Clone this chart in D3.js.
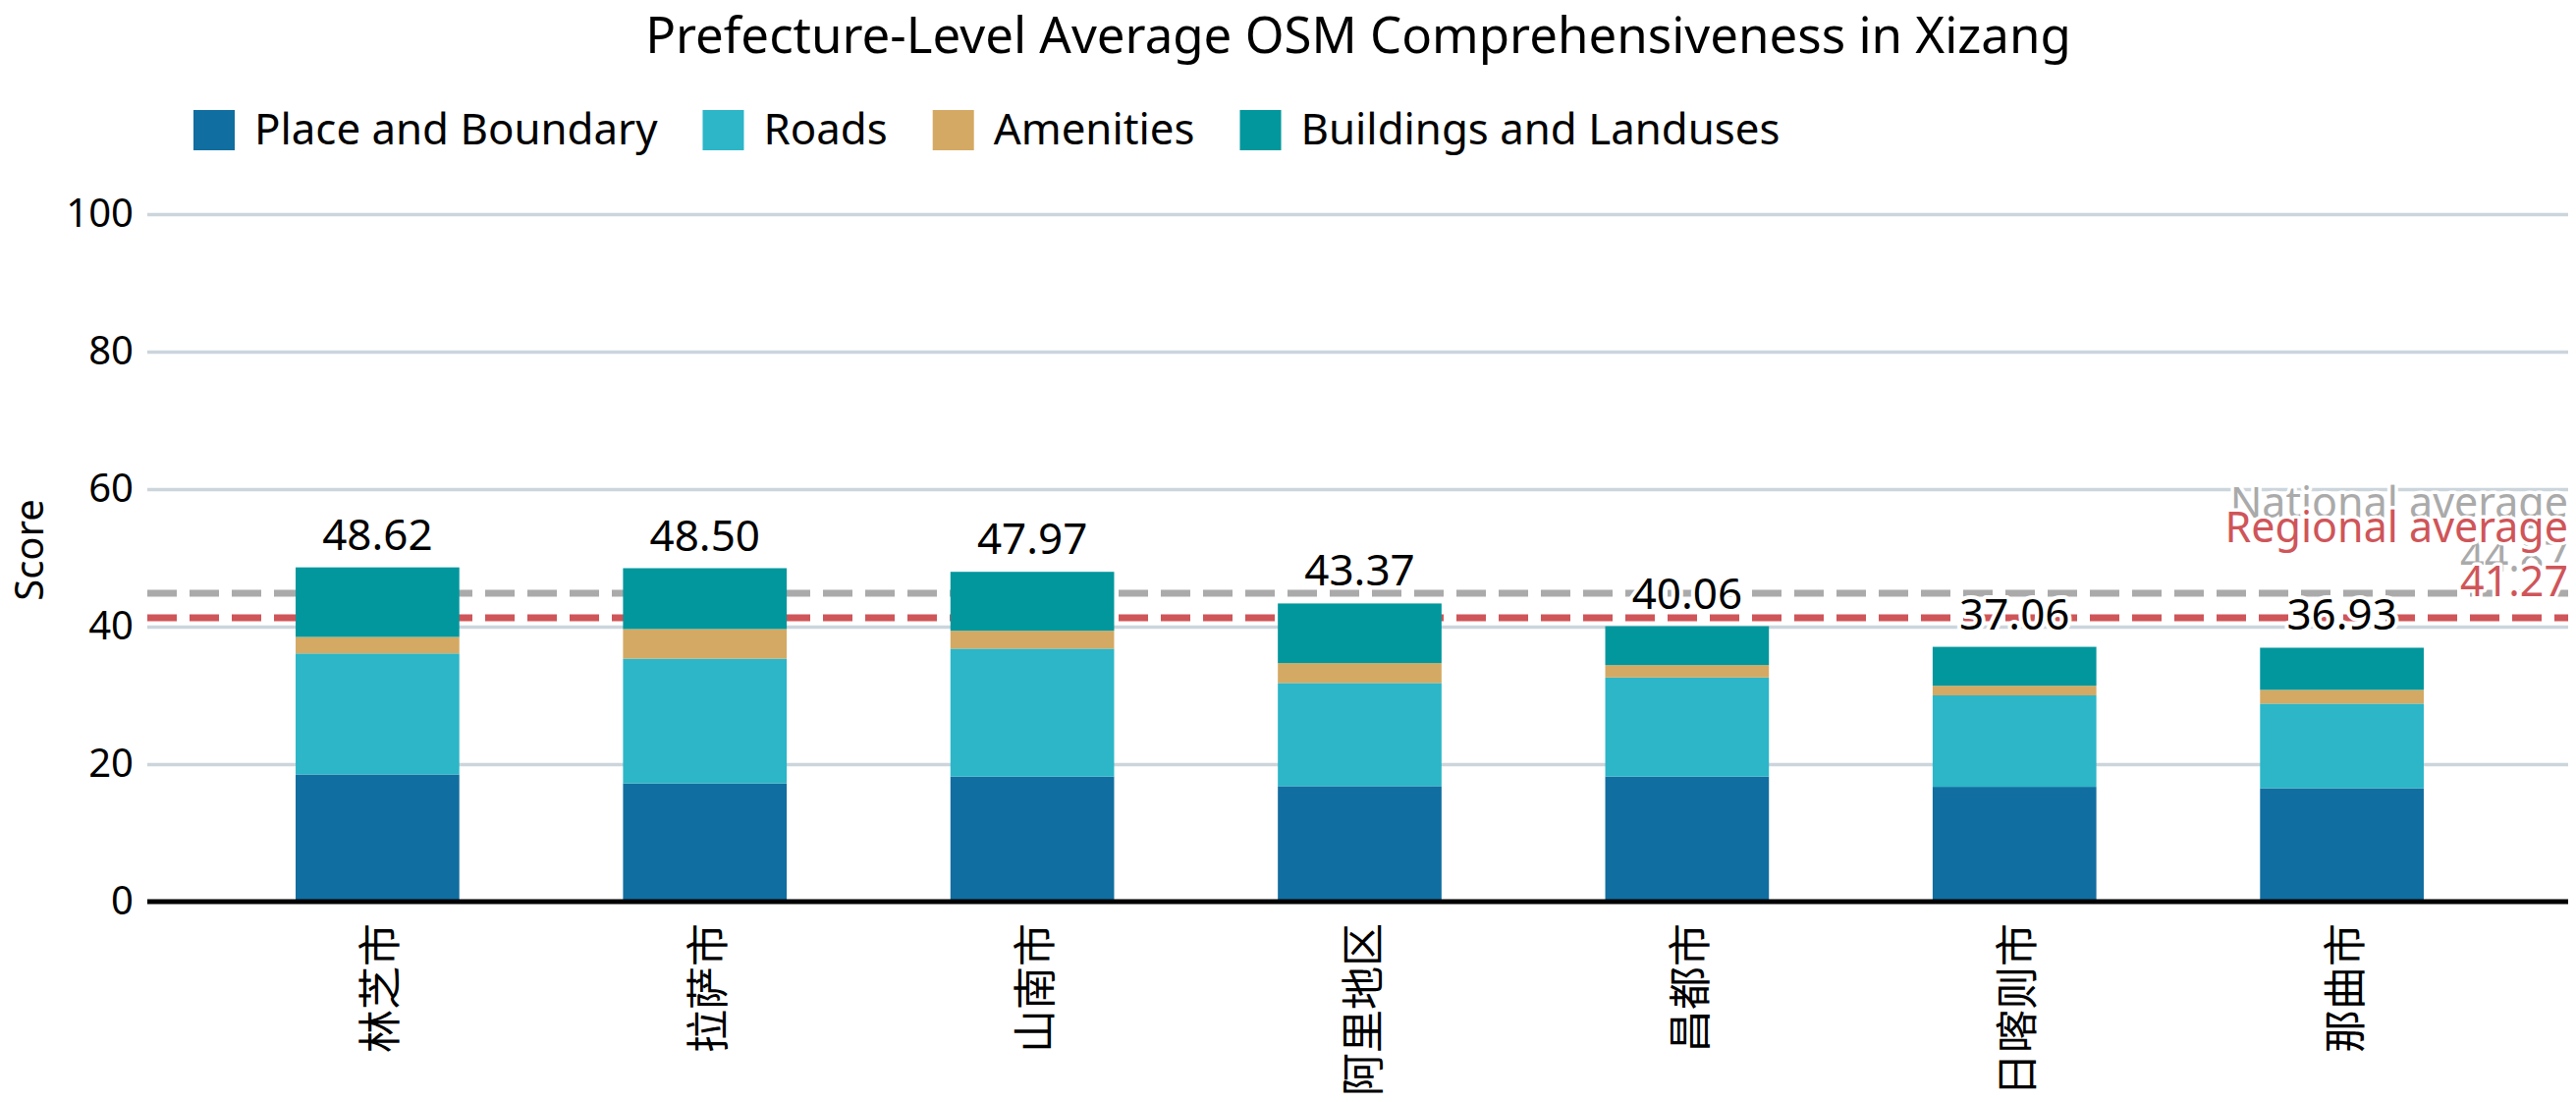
<!DOCTYPE html>
<html>
<head>
<meta charset="utf-8">
<script src="https://cdn.jsdelivr.net/npm/d3@7"></script>
<style>
  body { margin: 0; background: #fff; }
  svg { display: block; font-family: "Noto Sans", "Noto Sans CJK SC", sans-serif; }
</style>
</head>
<body>
<div id="chart"></div>
<script>
// prefecture names, in the order they are drawn
const regions = ['林芝市', '拉萨市', '山南市', '阿里地区', '昌都市', '日喀则市', '那曲市'];

// stacked component scores
const placeBoundary = [18.5, 17.2, 18.2, 16.8, 18.2, 16.7, 16.5];
const roads = [17.6, 18.15, 18.6, 15.0, 14.4, 13.3, 12.3];
const amenities = [2.4, 4.3, 2.6, 2.9, 1.8, 1.4, 2.0];
const buildings = [10.12, 8.85, 8.57, 8.67, 5.66, 5.66, 6.13];
const totals = [48.62, 48.50, 47.97, 43.37, 40.06, 37.06, 36.93];

const seriesNames = ['Place and Boundary', 'Roads', 'Amenities', 'Buildings and Landuses'];
const seriesColors = ['#116ea0', '#2cb6c8', '#d4a963', '#01979d'];

const yTicks = [0, 20, 40, 60, 80, 100];

const nationalAverage = 44.87;
const regionalAverage = 41.27;

const width = 2623;
const height = 1122;

function buildRows() {
    return regions.map((name, i) => ({
        region: name,
        'Place and Boundary': placeBoundary[i],
        'Roads': roads[i],
        'Amenities': amenities[i],
        'Buildings and Landuses': buildings[i],
        total: totals[i],
    }));
}

function drawChart() {
    const rows = buildRows();
    const area = { left: 150, right: 2615, top: 218, bottom: 918 };

    const svg = d3
        .select('#chart')
        .append('svg')
        .attr('width', width)
        .attr('height', height)
        .attr('viewBox', `0 0 ${width} ${height}`);

    const xScale = d3
        .scaleBand()
        .domain(regions)
        .range([152, 2617])
        .paddingInner(0.5)
        .paddingOuter(0.447);

    const yScale = d3
        .scaleLinear()
        .domain([0, 100])
        .range([area.bottom, area.top]);

    const color = d3.scaleOrdinal().domain(seriesNames).range(seriesColors);

    // title
    svg.append('text')
        .attr('x', 1383)
        .attr('y', 54)
        .attr('text-anchor', 'middle')
        .style('font-size', '51px')
        .text('Prefecture-Level Average OSM Comprehensiveness in Xizang');

    // legend
    let lx = 197;
    seriesNames.forEach((name) => {
        svg.append('rect')
            .attr('x', lx)
            .attr('y', 112)
            .attr('width', 42)
            .attr('height', 41)
            .attr('fill', color(name));
        const t = svg.append('text')
            .attr('x', lx + 62)
            .attr('y', 147)
            .style('font-size', '43.8px')
            .text(name);
        lx += 62 + t.node().getComputedTextLength() + 46;
    });

    // gridlines + tick labels
    const yAxis = svg.append('g')
        .attr('transform', `translate(${area.left}, 0)`)
        .call(
            d3.axisLeft(yScale)
                .tickValues(yTicks)
                .tickSize(-(area.right - area.left))
                .tickPadding(14)
        );
    yAxis.select('.domain').remove();
    yAxis.selectAll('.tick line')
        .attr('stroke', '#ccd5dc')
        .attr('stroke-width', 3.5)
        .filter((d) => d === 0)
        .remove();
    yAxis.selectAll('.tick text')
        .attr('fill', '#000')
        .style('font-size', '40px')
        .style('font-family', '"Noto Sans", sans-serif');

    svg.append('text')
        .attr('transform', `translate(44, ${(area.top + area.bottom) / 2 - 8}) rotate(-90)`)
        .attr('text-anchor', 'middle')
        .style('font-size', '40px')
        .text('Score');

    // average lines
    const avgLines = [
        { value: nationalAverage, label: 'National average', color: '#aaaaaa' },
        { value: regionalAverage, label: 'Regional average', color: '#cf5559' },
    ];

    svg.append('g')
        .selectAll('line')
        .data(avgLines)
        .join('line')
        .attr('x1', area.left)
        .attr('x2', area.right)
        .attr('y1', (d) => yScale(d.value))
        .attr('y2', (d) => yScale(d.value))
        .attr('stroke', (d) => d.color)
        .attr('stroke-width', 7)
        .attr('stroke-dasharray', '30 13');

    // stacked bars
    const stacked = d3.stack().keys(seriesNames)(rows);

    svg.append('g')
        .selectAll('g')
        .data(stacked)
        .join('g')
        .attr('fill', (d) => color(d.key))
        .selectAll('rect')
        .data((d) => d)
        .join('rect')
        .attr('x', (d) => xScale(d.data.region))
        .attr('y', (d) => yScale(d[1]))
        .attr('height', (d) => yScale(d[0]) - yScale(d[1]))
        .attr('width', xScale.bandwidth());

    // zero line
    svg.append('line')
        .attr('x1', area.left)
        .attr('x2', area.right)
        .attr('y1', yScale(0))
        .attr('y2', yScale(0))
        .attr('stroke', '#000')
        .attr('stroke-width', 5);

    // category labels
    svg.append('g')
        .selectAll('text')
        .data(regions)
        .join('text')
        .attr('transform', (d) => `translate(${xScale(d) + xScale.bandwidth() / 2}, 940) rotate(-90)`)
        .attr('text-anchor', 'end')
        .attr('dominant-baseline', 'central')
        .style('font-size', '44px')
        .style('font-family', '"Noto Sans CJK SC", sans-serif')
        .text((d) => d);

    // average labels
    avgLines.forEach((d) => {
        const y = yScale(d.value);
        const t = svg.append('text')
            .attr('text-anchor', 'end')
            .style('font-size', '43px')
            .attr('fill', d.color)
            .attr('stroke', '#fff')
            .attr('stroke-width', 7)
            .attr('paint-order', 'stroke')
            .attr('stroke-linejoin', 'round');
        t.append('tspan').attr('x', 2615).attr('y', y - 77).text(d.label);
        t.append('tspan').attr('x', 2615).attr('y', y - 22).text(d.value.toFixed(2));
    });

    // totals on top
    svg.append('g')
        .selectAll('text')
        .data(rows)
        .join('text')
        .attr('x', (d) => xScale(d.region) + xScale.bandwidth() / 2)
        .attr('y', (d) => yScale(d.total) - 18)
        .attr('text-anchor', 'middle')
        .style('font-size', '44px')
        .attr('stroke', '#fff')
        .attr('stroke-width', 8)
        .attr('paint-order', 'stroke')
        .attr('stroke-linejoin', 'round')
        .text((d) => d.total.toFixed(2));
}

document.addEventListener('DOMContentLoaded', () => {
    drawChart();
});
</script>
</body>
</html>
